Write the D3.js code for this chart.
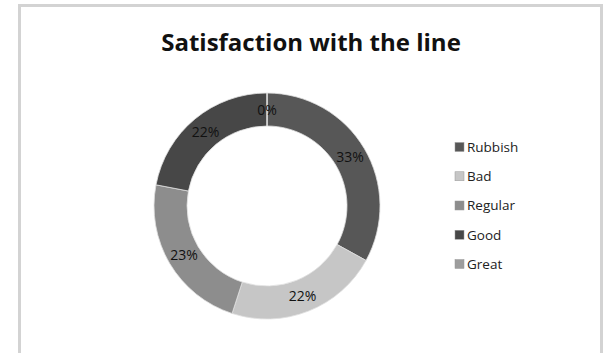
<!DOCTYPE html>
<html>
<head>
<meta charset="utf-8">
<script src="https://cdn.jsdelivr.net/npm/d3@7"></script>
<style>
  body { margin: 0; background: #fff; }
  svg { display: block; }
  text { font-family: "Open Sans", "DejaVu Sans", sans-serif; }
</style>
</head>
<body>
<div id="chart"></div>
<script>
var categories = ["Rubbish", "Bad", "Regular", "Good", "Great"];
var values = [33, 22, 23, 22, 0];
var colors = ["#575757", "#c6c6c6", "#8d8d8d", "#474747", "#9d9d9d"];
var title = "Satisfaction with the line";

var width = 604, height = 353;
var cx = 267, cy = 206;
var outerR = 113, innerR = 80;

var svg = d3.select("#chart").append("svg")
    .attr("width", width)
    .attr("height", height);

// chart area frame
svg.append("rect")
    .attr("x", 19.5)
    .attr("y", 5.5)
    .attr("width", 582)
    .attr("height", 360)
    .attr("fill", "#fff")
    .attr("stroke", "#d3d3d3")
    .attr("stroke-width", 3);

svg.append("text")
    .attr("x", 311)
    .attr("y", 51)
    .attr("text-anchor", "middle")
    .style("font-size", "24px")
    .style("font-weight", "bold")
    .attr("fill", "#111")
    .text(title);

var color = d3.scaleOrdinal().domain(categories).range(colors);

var pie = d3.pie()
    .sort(null)
    .value(function(d) { return d.value; });

var data = categories.map(function(c, i) { return {name: c, value: values[i]}; });
var arcs = pie(data);

var arc = d3.arc().innerRadius(innerR).outerRadius(outerR);
var labelArc = d3.arc().innerRadius((innerR + outerR) / 2).outerRadius((innerR + outerR) / 2);

var ring = svg.append("g").attr("transform", "translate(" + cx + "," + cy + ")");

ring.selectAll("path")
    .data(arcs)
    .enter()
    .append("path")
    .attr("d", arc)
    .attr("fill", function(d) { return color(d.data.name); })
    .attr("stroke", "#e0e0e0")
    .attr("stroke-width", 0.8);

ring.selectAll("text")
    .data(arcs)
    .enter()
    .append("text")
    .attr("transform", function(d) { return "translate(" + labelArc.centroid(d) + ")"; })
    .attr("text-anchor", "middle")
    .attr("dy", "0.36em")
    .style("font-size", "14px")
    .attr("fill", "#111")
    .text(function(d) { return d.data.value + "%"; });

// legend
var legendY = d3.scalePoint().domain(categories).range([147, 264]);

var legend = svg.append("g").selectAll("g")
    .data(categories)
    .enter()
    .append("g")
    .attr("transform", function(d) { return "translate(455," + legendY(d) + ")"; });

legend.append("rect")
    .attr("x", 0)
    .attr("y", -4.5)
    .attr("width", 9)
    .attr("height", 9)
    .attr("fill", function(d) { return color(d); })
    .attr("stroke", "#999")
    .attr("stroke-width", 0.5);

legend.append("text")
    .attr("x", 12)
    .attr("dy", "0.36em")
    .style("font-size", "13.5px")
    .attr("fill", "#222")
    .text(function(d) { return d; });
</script>
</body>
</html>
